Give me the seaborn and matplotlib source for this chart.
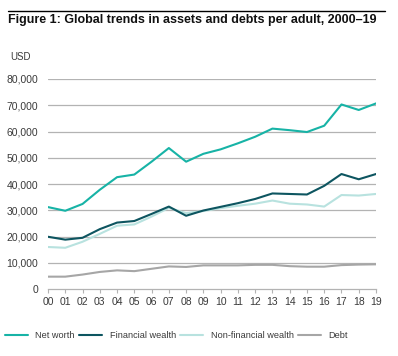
import seaborn as sns
import matplotlib.pyplot as plt
import pandas as pd
from matplotlib.lines import Line2D

years = ['00', '01', '02', '03', '04', '05', '06', '07', '08', '09',
         '10', '11', '12', '13', '14', '15', '16', '17', '18', '19']
net_worth = [31200, 29800, 32400, 37800, 42600, 43600, 48500, 53700, 48500, 51500,
             53200, 55500, 58000, 61100, 60500, 59800, 62200, 70300, 68200, 70700]
financial = [19900, 18800, 19500, 22800, 25300, 25900, 28600, 31400, 27900, 29900,
             31300, 32700, 34300, 36400, 36200, 36000, 39300, 43800, 41800, 43800]
non_financial = [16000, 15700, 18000, 21000, 24100, 24600, 27600, 30900, 28900, 29700,
                 30800, 31700, 32500, 33700, 32500, 32200, 31400, 35800, 35600, 36200]
debt = [4700, 4700, 5500, 6500, 7100, 6800, 7700, 8600, 8400, 9000,
        9000, 9000, 9200, 9200, 8700, 8500, 8500, 9100, 9300, 9400]

series_names = ['Net worth', 'Financial wealth', 'Non-financial wealth', 'Debt']
colors = ['#17b3a6', '#0d5560', '#b8e2df', '#a6a6a6']

rows = []
for name, vals in zip(series_names, [net_worth, financial, non_financial, debt]):
    for i, v in enumerate(vals):
        rows.append({'x': i, 'value': v, 'series': name})
df = pd.DataFrame(rows)

sns.set_style('white')
plt.rcParams['font.family'] = ['Liberation Sans', 'DejaVu Sans']
text_col = '#3a3a3a'

fig = plt.figure(figsize=(3.98, 3.56), dpi=100)
ax = fig.add_axes([48 / 398, 1 - 289 / 356, (376 - 48) / 398, (289 - 79) / 356])

# gridlines first
for yv in range(10000, 80001, 10000):
    ax.axhline(yv, color='#b3b3b3', lw=0.9, zorder=0)

# draw debt first so it's under
order = ['Debt', 'Non-financial wealth', 'Financial wealth', 'Net worth']
palette = dict(zip(series_names, colors))
for name in order:
    sns.lineplot(data=df[df.series == name], x='x', y='value', color=palette[name],
                 lw=1.5, ax=ax, legend=False)

ax.set_xlim(0, 19)
ax.set_ylim(0, 80000)
ax.set_xticks(range(len(years)))
ax.set_xticklabels(years)
ax.set_yticks(range(0, 80001, 10000))
ax.set_yticklabels([f'{v:,}' for v in range(0, 80001, 10000)])
ax.set_xlabel('')
ax.set_ylabel('')
for s in ['top', 'right', 'left']:
    ax.spines[s].set_visible(False)
ax.spines['bottom'].set_color('#b3b3b3')
ax.spines['bottom'].set_linewidth(0.9)
ax.tick_params(axis='x', length=3, color='#b3b3b3', width=0.8, labelsize=7.5,
               labelcolor=text_col, pad=3, bottom=True)
ax.tick_params(axis='y', length=0, labelsize=7.5, labelcolor=text_col, pad=7)

# title and rule
fig.add_artist(Line2D([8 / 398, 385 / 398], [1 - 11 / 356, 1 - 11 / 356], color='black', lw=1))
fig.text(8 / 398, 1 - 20 / 356, 'Figure 1: Global trends in assets and debts per adult, 2000\u201319',
         fontsize=9.0, fontweight='bold', color='#111111', va='center', ha='left')
fig.text(10 / 398, 1 - 57 / 356, 'USD', fontsize=7, color=text_col, va='center', ha='left')

handles = [Line2D([], [], color=c, lw=1.5) for c in colors]
fig.legend(handles, series_names, loc='center left', bbox_to_anchor=(5 / 398, 1 - 336 / 356),
           ncol=4, frameon=False, fontsize=6.6, handlelength=2.5, handletextpad=0.8,
           columnspacing=0.5, labelcolor=text_col, borderaxespad=0, borderpad=0)

fig.savefig('out.png', dpi=100)
